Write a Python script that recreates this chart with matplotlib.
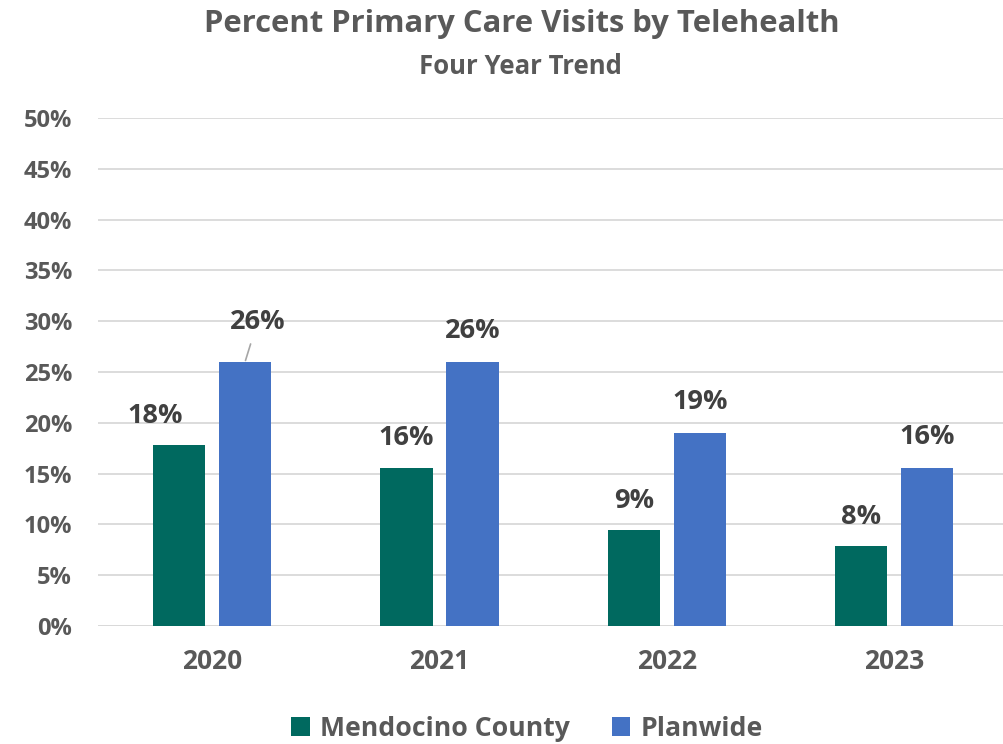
import matplotlib.pyplot as plt
import numpy as np

plt.rcParams['font.family'] = ['Open Sans', 'DejaVu Sans']
plt.rcParams['font.weight'] = 'bold'

# --- data ---
years = ["2020", "2021", "2022", "2023"]
mendocino = [17.8, 15.6, 9.4, 7.9]
planwide = [26.0, 26.0, 19.0, 15.6]
mendocino_labels = ["18%", "16%", "9%", "8%"]
planwide_labels = ["26%", "26%", "19%", "16%"]

TEAL = "#00695f"
BLUE = "#4472c4"
GRAY = "#595959"
DARK = "#404040"

fig = plt.figure(figsize=(10.04, 7.44), dpi=100)
ax = fig.add_axes([0.098, 0.1586, 0.906, 0.6828])

x = np.arange(len(years))
w = 0.23
off = 0.145
b1 = ax.bar(x - off, mendocino, w, color=TEAL, label="Mendocino County", zorder=3)
b2 = ax.bar(x + off, planwide, w, color=BLUE, label="Planwide", zorder=3)

ax.set_xlim(-0.5, 3.5)
ax.set_ylim(0, 50)
ax.set_yticks(np.arange(0, 51, 5))
ax.set_yticklabels([f"{v}%" for v in range(0, 51, 5)])
ax.set_xticks(x)
ax.set_xticklabels(years)
ax.tick_params(axis='y', length=0, labelsize=17, labelcolor=GRAY, pad=19)
ax.tick_params(axis='x', length=0, labelsize=19, labelcolor=GRAY, pad=16)
ax.grid(axis='y', color="#d9d9d9", linewidth=1.3, zorder=0)
for s in ax.spines.values():
    s.set_visible(False)
ax.axhline(0, color="#d9d9d9", linewidth=1.3, zorder=2)

# data labels
for i in range(len(years)):
    dx1 = -17 if i == 0 else 0
    ax.annotate(mendocino_labels[i], (x[i] - off, mendocino[i]), xytext=(dx1, 21),
                textcoords="offset points", ha="center", va="center",
                fontsize=19.5, color=DARK, fontweight="bold")
    if i == 0:
        # label nudged off the bar with a leader line
        ax.annotate(planwide_labels[i], (x[i] + off, planwide[i]), xytext=(9, 29),
                    textcoords="offset points", ha="center", va="center",
                    fontsize=19.5, color=DARK, fontweight="bold",
                    arrowprops=dict(arrowstyle="-", color="#a6a6a6", lw=1.2,
                                    shrinkA=5, shrinkB=1))
    else:
        ax.annotate(planwide_labels[i], (x[i] + off, planwide[i]), xytext=(0, 22),
                    textcoords="offset points", ha="center", va="center",
                    fontsize=19.5, color=DARK, fontweight="bold")

fig.text(0.52, 0.968, "Percent Primary Care Visits by Telehealth", ha="center", va="center",
         fontsize=22.3, color=GRAY, fontweight="bold")
fig.text(0.518, 0.91, "Four Year Trend", ha="center", va="center",
         fontsize=18.5, color=GRAY, fontweight="bold")

leg = fig.legend(handles=[b1, b2], loc="center", bbox_to_anchor=(0.525, 0.02), ncol=2,
                 frameon=False, fontsize=19.2, handlelength=0.7, handleheight=0.7,
                 handletextpad=0.4, columnspacing=1.55)
for t in leg.get_texts():
    t.set_color(GRAY)

fig.savefig("out.png", dpi=100)
